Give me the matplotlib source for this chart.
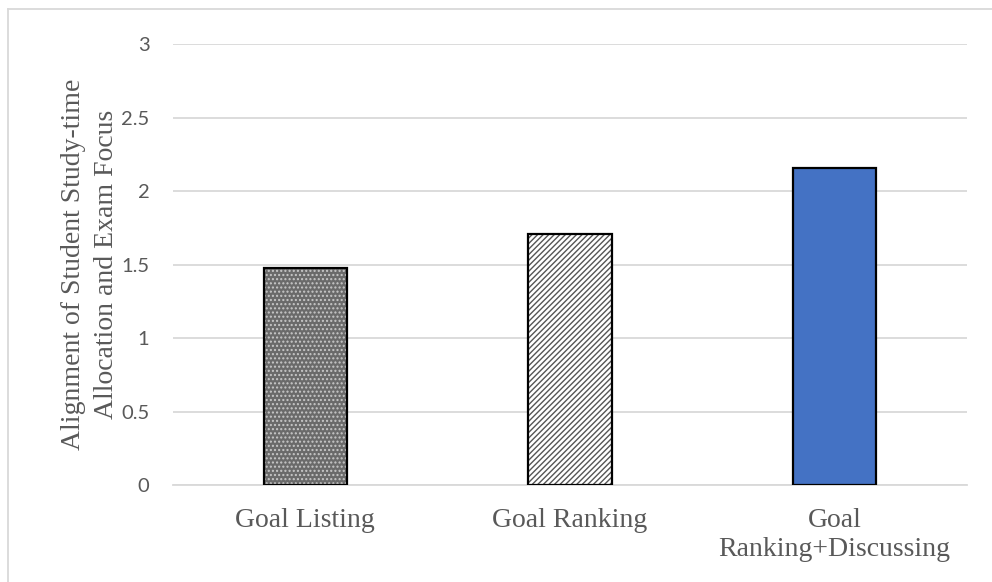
import matplotlib
matplotlib.use("Agg")
import matplotlib.pyplot as plt
from matplotlib.lines import Line2D

categories = ["Goal Listing", "Goal Ranking", "Goal\nRanking+Discussing"]
values = [1.48, 1.71, 2.155]
yticks = [0, 0.5, 1, 1.5, 2, 2.5, 3]
ytick_labels = ["0", "0.5", "1", "1.5", "2", "2.5", "3"]
ylabel = "Alignment of Student Study-time\nAllocation and Exam Focus"

plt.rcParams['hatch.linewidth'] = 1.0

fig = plt.figure(figsize=(9.92, 5.82), dpi=100)
ax = fig.add_axes([173/992, 1-485.3/582, (967-173)/992, (485.3-44)/582])

x = list(range(len(categories)))
w = 0.314
grey_txt = "#595959"

# bar 1: dotted pattern
ax.bar(x[0], values[0], width=w, color="#6a6a6a", edgecolor="#c8c8c8", hatch="....", linewidth=0, zorder=2)
# bar 2: diagonal stripes
ax.bar(x[1], values[1], width=w, color="white", edgecolor="#555555", hatch="//////", linewidth=0, zorder=2)
# bar 3: solid blue
ax.bar(x[2], values[2], width=w, color="#4472C4", linewidth=0, zorder=2)
# outlines
ax.bar(x, values, width=w, facecolor="none", edgecolor="black", linewidth=1.6, zorder=3)

ax.set_xlim(-0.5, len(categories) - 0.5)
ax.set_ylim(0, 3)
ax.set_yticks(yticks)
ax.set_yticklabels(ytick_labels, fontfamily="Lato", fontsize=14.5, color=grey_txt)
ax.set_xticks(x)
ax.set_xticklabels(categories, fontfamily="Liberation Serif", fontsize=20, color=grey_txt, linespacing=1.25)
ax.tick_params(axis="y", length=0, pad=17)
ax.tick_params(axis="x", length=0, pad=16)

ax.yaxis.grid(True, color="#d9d9d9", linewidth=1.3, zorder=0)
ax.set_axisbelow(True)
for s in ["top", "right", "left"]:
    ax.spines[s].set_visible(False)
ax.spines["bottom"].set_color("#d9d9d9")
ax.spines["bottom"].set_linewidth(1.3)

fig.text(90/992, 1-264.5/582, ylabel, rotation=90, ha="center", va="center",
         fontfamily="Liberation Serif", fontsize=20, color=grey_txt, linespacing=1.45)

# figure border
fig.add_artist(Line2D([8/992, 8/992], [0, 1-9/582], color="#d9d9d9", linewidth=1.3, transform=fig.transFigure))
fig.add_artist(Line2D([8/992, 1], [1-9/582, 1-9/582], color="#d9d9d9", linewidth=1.3, transform=fig.transFigure))

fig.savefig("out.png", dpi=100)
